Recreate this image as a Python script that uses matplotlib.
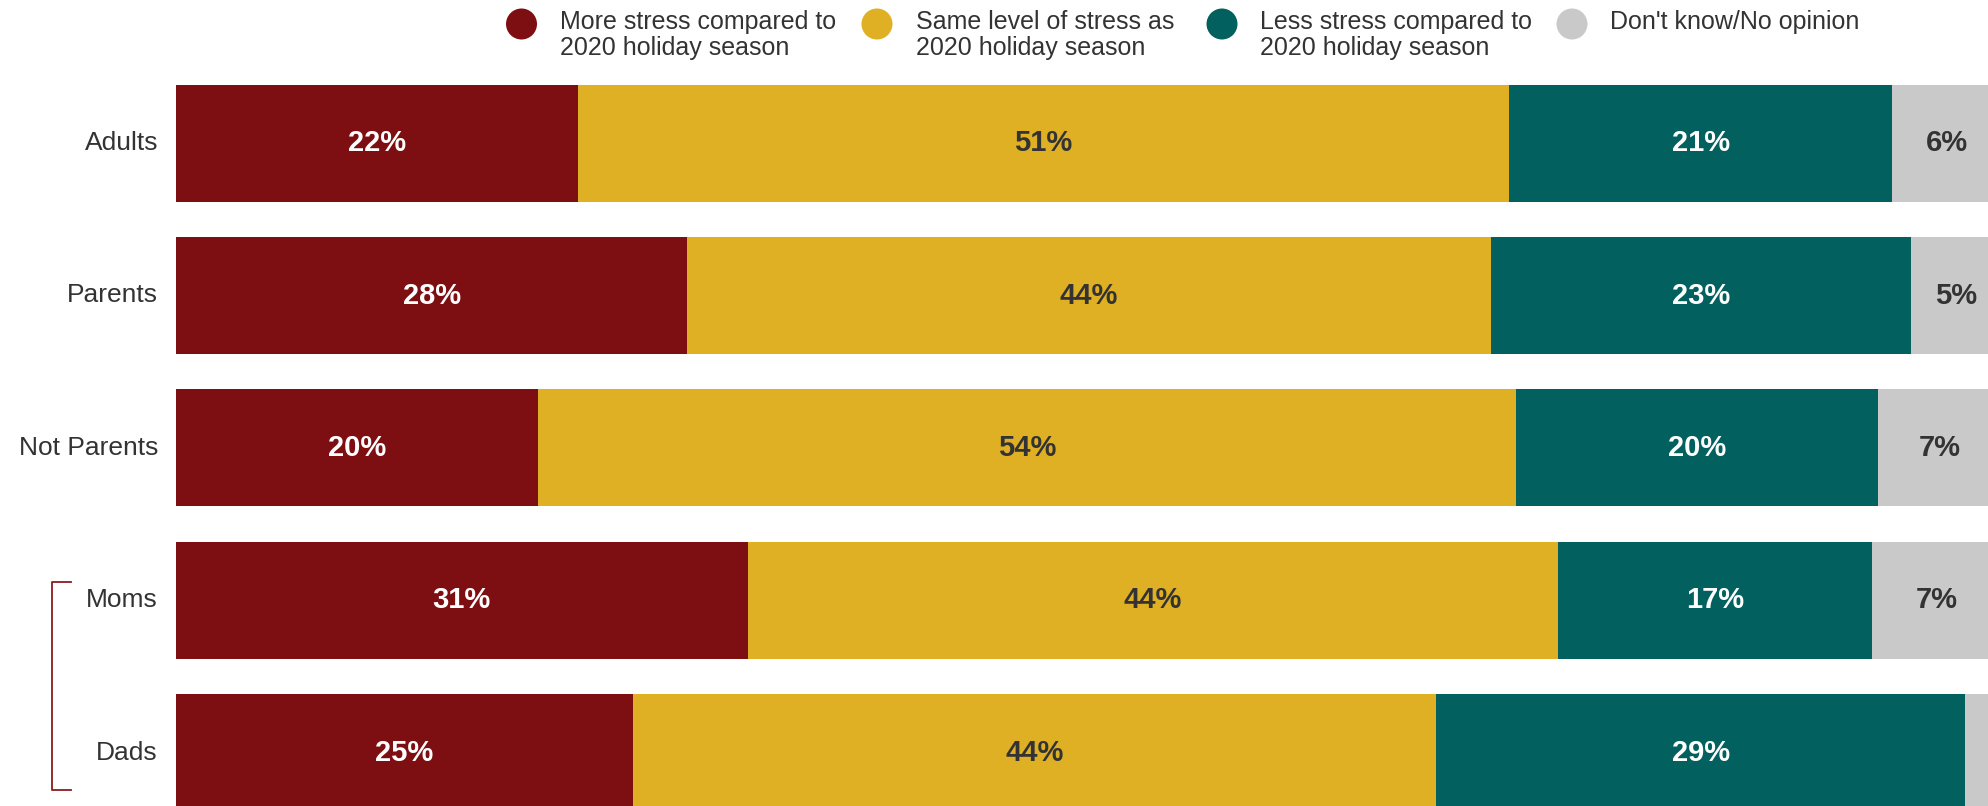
import matplotlib
matplotlib.use("Agg")
import matplotlib.pyplot as plt
from matplotlib.patches import Circle
import numpy as np

plt.rcParams['font.family'] = ['Liberation Sans', 'DejaVu Sans']

categories = ["Adults", "Parents", "Not Parents", "Moms", "Dads"]
series_names = [
    "More stress compared to\n2020 holiday season",
    "Same level of stress as\n2020 holiday season",
    "Less stress compared to\n2020 holiday season",
    "Don't know/No opinion",
]
# values (labels shown rounded)
more_stress = [22, 28, 19.8, 31.3, 25]
same_stress = [51, 44, 53.6, 44.4, 44]
less_stress = [21, 23, 19.8, 17.2, 29]
dont_know = [6, 5, 6.8, 7.1, 2]
show_label = [[True] * 5, [True] * 5, [True] * 5, [True, True, True, True, False]]

colors = ["#7D0F12", "#E0B024", "#02605E", "#C9C9C9"]
text_colors = ["white", "#333333", "white", "#333333"]

W, H = 1988, 806
fig = plt.figure(figsize=(W / 100, H / 100), dpi=100)

# main axes: x 0..100 maps to px 176..2002, rows centered at 143 + i*152.5
step = 152.5
top_px = 143 - step / 2
bot_px = 143 + 4 * step + step / 2
ax = fig.add_axes([176 / W, 1 - bot_px / H, 1826 / W, (bot_px - top_px) / H])
ax.set_xlim(0, 100)
ax.set_ylim(4.5, -0.5)
ax.axis("off")

series = [more_stress, same_stress, less_stress, dont_know]
y = np.arange(len(categories))
left = np.zeros(len(categories))
for s, vals in enumerate(series):
    vals = np.array(vals, dtype=float)
    ax.barh(y, vals, left=left, height=117 / step, color=colors[s],
            edgecolor="none")
    for i, v in enumerate(vals):
        if show_label[s][i]:
            ax.text(left[i] + v / 2, y[i], f"{v:.0f}%", ha="center", va="center",
                    color=text_colors[s], fontsize=21, fontweight="bold")
    left += vals

# category labels
for i, c in enumerate(categories):
    ax.annotate(c, xy=(0, y[i]), xytext=(-18, 0), textcoords="offset pixels",
                ha="right", va="center", fontsize=19, color="#333333")

# overlay axes in pixel coordinates for legend and bracket
ov = fig.add_axes([0, 0, 1, 1])
ov.set_xlim(0, W)
ov.set_ylim(H, 0)
ov.axis("off")

leg_circle_x = [521.5, 877, 1222, 1572]
for s, name in enumerate(series_names):
    cx = leg_circle_x[s]
    ov.add_patch(Circle((cx, 24), 15.5, color=colors[s], lw=0))
    ov.text(cx + 38.5, 10, name, ha="left", va="top", fontsize=18,
            color="#333333", linespacing=1.08)

# bracket for Moms / Dads
ov.plot([71, 52, 52, 71], [582, 582, 790, 790], color="#8B1A1E", lw=1.3,
        solid_joinstyle="round")

fig.savefig("out.png", dpi=100)
